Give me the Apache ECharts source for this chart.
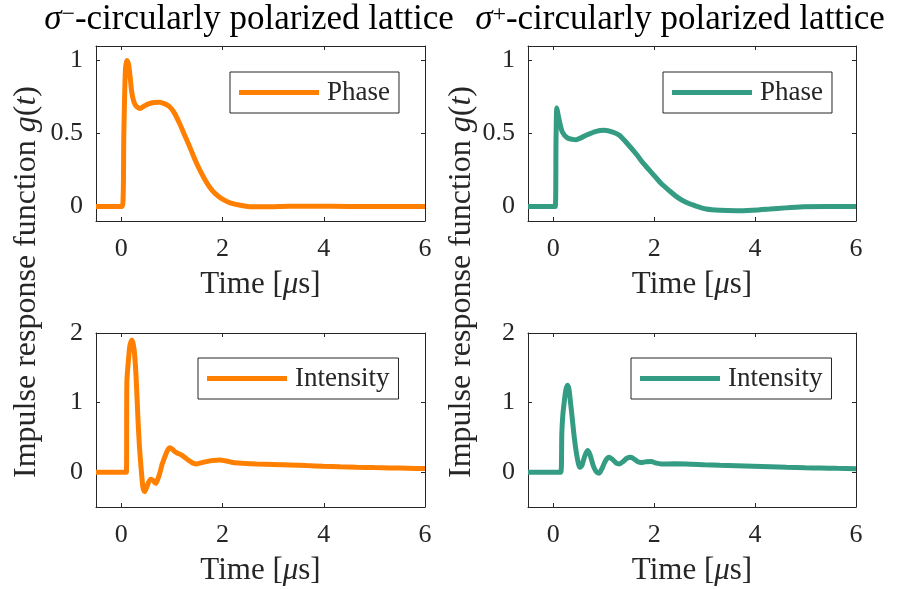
<!DOCTYPE html>
<html>
<head>
<meta charset="utf-8">
<script src="https://cdn.jsdelivr.net/npm/echarts@6/dist/echarts.min.js"></script>
<style>
  html, body { margin: 0; padding: 0; background: #fff; }
  #chart { width: 897px; height: 589px; }
</style>
</head>
<body>
<div id="chart"></div>
<script>
// Impulse response g(t) vs time in microseconds, four panels.

// sigma-minus lattice, phase response
const tPhaseMinus = [-0.5, 0.02, 0.05, 0.08, 0.11, 0.13, 0.15, 0.18, 0.20, 0.23, 0.27, 0.32, 0.37, 0.45, 0.55, 0.65, 0.75, 0.85, 0.95, 1.05, 1.15, 1.25, 1.35, 1.45, 1.55, 1.65, 1.75, 1.85, 2.0, 2.15, 2.35, 2.6, 2.9, 3.3, 3.8, 4.5, 6.0];
const gPhaseMinus = [0, 0, 0.5, 0.93, 1.0, 0.99, 0.96, 0.87, 0.80, 0.74, 0.70, 0.68, 0.672, 0.688, 0.705, 0.713, 0.715, 0.705, 0.685, 0.64, 0.57, 0.49, 0.41, 0.325, 0.25, 0.185, 0.13, 0.09, 0.05, 0.025, 0.008, -0.003, -0.003, 0.002, 0.002, 0, 0];

// sigma-plus lattice, phase response
const tPhasePlus = [-0.5, 0.04, 0.055, 0.07, 0.09, 0.12, 0.18, 0.28, 0.38, 0.45, 0.55, 0.65, 0.85, 1.01, 1.18, 1.31, 1.47, 1.64, 1.8, 1.97, 2.13, 2.30, 2.47, 2.63, 2.83, 3.03, 3.3, 3.63, 3.95, 4.29, 4.6, 4.95, 5.4, 6.0];
const gPhasePlus = [0, 0, 0.45, 0.675, 0.64, 0.59, 0.51, 0.47, 0.46, 0.458, 0.47, 0.488, 0.515, 0.522, 0.51, 0.488, 0.43, 0.361, 0.29, 0.223, 0.16, 0.108, 0.06, 0.028, 0.002, -0.018, -0.027, -0.030, -0.026, -0.018, -0.01, -0.003, 0, 0];

// sigma-minus lattice, intensity response
const tIntMinus = [-0.5, 0.10, 0.11, 0.14, 0.17, 0.21, 0.25, 0.29, 0.33, 0.36, 0.40, 0.43, 0.46, 0.50, 0.53, 0.58, 0.63, 0.68, 0.72, 0.76, 0.81, 0.86, 0.91, 0.96, 1.01, 1.06, 1.12, 1.19, 1.25, 1.32, 1.40, 1.47, 1.55, 1.68, 1.8, 1.95, 2.08, 2.21, 2.4, 2.67, 3.0, 3.33, 3.66, 3.99, 4.32, 4.65, 5.0, 5.31, 5.65, 6.0];
const gIntMinus = [0, 0, 1.30, 1.60, 1.82, 1.90, 1.78, 1.40, 0.75, 0.35, -0.02, -0.23, -0.28, -0.22, -0.16, -0.10, -0.12, -0.16, -0.10, -0.015, 0.12, 0.22, 0.31, 0.352, 0.33, 0.295, 0.27, 0.247, 0.215, 0.176, 0.135, 0.119, 0.13, 0.152, 0.168, 0.176, 0.16, 0.138, 0.128, 0.119, 0.112, 0.105, 0.095, 0.086, 0.078, 0.071, 0.066, 0.062, 0.057, 0.052];

// sigma-plus lattice, intensity response
const tIntPlus = [-0.5, 0.15, 0.17, 0.19, 0.22, 0.25, 0.28, 0.31, 0.34, 0.38, 0.42, 0.46, 0.50, 0.53, 0.57, 0.62, 0.68, 0.73, 0.79, 0.85, 0.91, 0.97, 1.04, 1.11, 1.18, 1.25, 1.31, 1.38, 1.46, 1.54, 1.62, 1.68, 1.74, 1.84, 1.94, 2.04, 2.14, 2.4, 2.63, 3.0, 3.3, 3.63, 3.96, 4.3, 4.62, 5.0, 5.3, 5.62, 6.0];
const gIntPlus = [0, 0, 0.55, 0.82, 1.02, 1.18, 1.25, 1.20, 1.02, 0.75, 0.48, 0.27, 0.12, 0.07, 0.10, 0.22, 0.31, 0.25, 0.10, 0.01, -0.015, 0.06, 0.17, 0.214, 0.18, 0.13, 0.119, 0.15, 0.20, 0.214, 0.18, 0.15, 0.138, 0.15, 0.152, 0.13, 0.119, 0.12, 0.119, 0.108, 0.10, 0.093, 0.086, 0.078, 0.07, 0.064, 0.06, 0.055, 0.05];

// tick labels
const xTicks = [0, 2, 4, 6];
const yTicksPhase = [0, 0.5, 1];
const yTicksIntensity = [0, 1, 2];

const FONT = '"Liberation Serif", "Times New Roman", serif';
const INK = '#262626';
const ORANGE = '#FF8000';
const TEAL = '#349C82';

const zip = (t, g) => t.map((v, i) => [v, g[i]]);

const panels = [
  { grid: { left: 96, top: 46, width: 329, height: 175 }, ymin: -0.1, ymax: 1.1, yTicks: yTicksPhase,
    name: 'Phase \u03c3\u2212', label: 'Phase', color: ORANGE, data: zip(tPhaseMinus, gPhaseMinus),
    legend: { left: 230, top: 72 } },
  { grid: { left: 528, top: 46, width: 328, height: 175 }, ymin: -0.1, ymax: 1.1, yTicks: yTicksPhase,
    name: 'Phase \u03c3+', label: 'Phase', color: TEAL, data: zip(tPhasePlus, gPhasePlus),
    legend: { left: 663, top: 72 } },
  { grid: { left: 96, top: 333, width: 329, height: 174 }, ymin: -0.5, ymax: 2, yTicks: yTicksIntensity,
    name: 'Intensity \u03c3\u2212', label: 'Intensity', color: ORANGE, data: zip(tIntMinus, gIntMinus),
    legend: { left: 198, top: 358 } },
  { grid: { left: 528, top: 333, width: 328, height: 174 }, ymin: -0.5, ymax: 2, yTicks: yTicksIntensity,
    name: 'Intensity \u03c3+', label: 'Intensity', color: TEAL, data: zip(tIntPlus, gIntPlus),
    legend: { left: 631, top: 358 } }
];

const lineStyle = { color: INK, width: 1 };
const xAxes = [], yAxes = [], series = [], legends = [];

panels.forEach((p, i) => {
  xAxes.push({
    type: 'value', gridIndex: i, min: -0.5, max: 6, position: 'bottom',
    axisLine: { show: true, onZero: false, lineStyle },
    axisTick: { show: true, inside: true, length: 4, customValues: xTicks, lineStyle },
    splitLine: { show: false },
    axisLabel: { customValues: xTicks, fontFamily: FONT, fontSize: 26, color: INK, margin: 15 },
    name: '{n|Time [}{i|\u03bc}{n|s]}',
    nameLocation: 'middle', nameGap: 48,
    nameTextStyle: {
      rich: {
        n: { fontFamily: FONT, fontSize: 31, color: INK },
        i: { fontFamily: FONT, fontSize: 31, color: INK, fontStyle: 'italic' }
      }
    }
  });
  yAxes.push({
    type: 'value', gridIndex: i, min: p.ymin, max: p.ymax, position: 'left',
    axisLine: { show: true, onZero: false, lineStyle },
    axisTick: { show: true, inside: true, length: 4, customValues: p.yTicks, lineStyle },
    splitLine: { show: false },
    axisLabel: { customValues: p.yTicks, fontFamily: FONT, fontSize: 26, color: INK, margin: 13 }
  });
  series.push({
    type: 'line', name: p.name, xAxisIndex: i, yAxisIndex: i,
    data: p.data, symbol: 'none', showSymbol: false, smooth: 0.25,
    lineStyle: { color: p.color, width: 5 }, itemStyle: { color: p.color },
    animation: false, z: 3
  });
  legends.push({
    data: [{ name: p.name, icon: 'rect' }], left: p.legend.left, top: p.legend.top,
    orient: 'horizontal', padding: [7, 9, 7, 9],
    itemWidth: 80, itemHeight: 5, selectedMode: false,
    borderColor: INK, borderWidth: 1, borderRadius: 0, backgroundColor: '#fff',
    formatter: () => p.label,
    textStyle: { fontFamily: FONT, fontSize: 27, color: INK, padding: [0, 0, 0, 3] }
  });
});

// mirrored axes close each panel into a box
panels.forEach((p, i) => {
  xAxes.push({
    type: 'value', gridIndex: i, min: -0.5, max: 6, position: 'top',
    axisLine: { show: true, onZero: false, lineStyle },
    axisTick: { show: true, inside: true, length: 4, customValues: xTicks, lineStyle },
    axisLabel: { show: false }, splitLine: { show: false }
  });
  yAxes.push({
    type: 'value', gridIndex: i, min: p.ymin, max: p.ymax, position: 'right',
    axisLine: { show: true, onZero: false, lineStyle },
    axisTick: { show: true, inside: true, length: 4, customValues: p.yTicks, lineStyle },
    axisLabel: { show: false }, splitLine: { show: false }
  });
});

const titleRich = {
  s: { fontFamily: FONT, fontSize: 35, fill: '#000', fontStyle: 'italic' },
  sup: { fontFamily: FONT, fontSize: 24, fill: '#000', verticalAlign: 'top' },
  n: { fontFamily: FONT, fontSize: 35, fill: '#000' }
};
const yNameRich = {
  n: { fontFamily: FONT, fontSize: 32, fill: INK },
  i: { fontFamily: FONT, fontSize: 32, fill: INK, fontStyle: 'italic' }
};
const yNameText = '{n|Impulse response function }{i|g}{n|(}{i|t}{n|)}';
const centered = { align: 'center', verticalAlign: 'middle', textAlign: 'center', textVerticalAlign: 'middle' };

const graphic = [
  { type: 'text', x: 249, y: 20, style: Object.assign({ text: '{s|\u03c3}{sup|\u2212}{n|-circularly polarized lattice}', rich: titleRich }, centered) },
  { type: 'text', x: 680, y: 20, style: Object.assign({ text: '{s|\u03c3}{sup|+}{n|-circularly polarized lattice}', rich: titleRich }, centered) },
  { type: 'text', x: 27, y: 282, rotation: Math.PI / 2, style: Object.assign({ text: yNameText, rich: yNameRich }, centered) },
  { type: 'text', x: 462, y: 282, rotation: Math.PI / 2, style: Object.assign({ text: yNameText, rich: yNameRich }, centered) }
];

const chart = echarts.init(document.getElementById('chart'), null, { renderer: 'canvas' });
chart.setOption({
  backgroundColor: '#fff',
  animation: false,
  grid: panels.map(p => Object.assign({ containLabel: false, outerBoundsMode: 'none' }, p.grid)),
  xAxis: xAxes,
  yAxis: yAxes,
  legend: legends,
  series,
  graphic
});
</script>
</body>
</html>
